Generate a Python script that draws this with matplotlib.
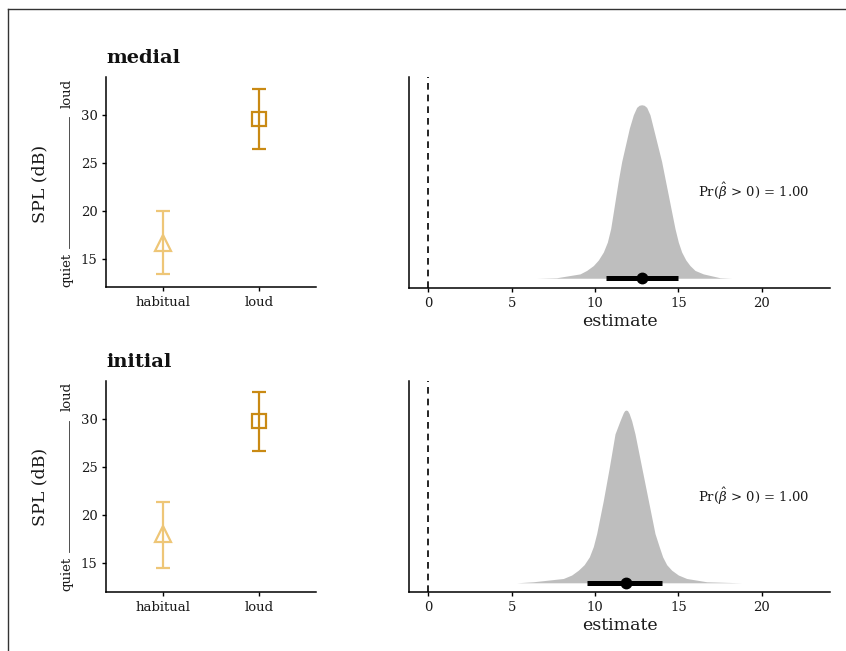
import matplotlib
matplotlib.use("Agg")
import matplotlib.pyplot as plt
from matplotlib.lines import Line2D

plt.rcParams['font.family'] = ['DejaVu Serif']
plt.rcParams['mathtext.fontset'] = 'dejavuserif'

# ---------------- data ----------------
conditions = ["habitual", "loud"]
cond_colors = ["#EEC677", "#C98A14"]
cond_markers = ["^", "s"]

panels = ["medial", "initial"]

medial_mean = [16.7, 29.5]
medial_lo = [13.4, 26.4]
medial_hi = [20.0, 32.7]

initial_mean = [18.05, 29.8]
initial_lo = [14.55, 26.7]
initial_hi = [21.34, 32.8]

medial_dens_x = [6.5, 7.7, 9.1, 9.5, 9.9, 10.2, 10.5, 10.74, 10.94, 11.1, 11.26, 11.42, 11.6,
                 12.06, 12.3, 12.5, 12.65, 12.8, 12.95, 13.1, 13.3, 13.5, 14.0, 14.2, 14.4,
                 14.6, 14.8, 15.0, 15.2, 15.45, 15.7, 16.0, 16.5, 17.5, 18.2]
medial_dens_y = [0.0, 0.003, 0.025, 0.045, 0.073, 0.105, 0.151, 0.208, 0.286, 0.382, 0.479,
                 0.575, 0.672, 0.865, 0.942, 0.985, 0.997, 1.0, 0.997, 0.985, 0.942, 0.865,
                 0.672, 0.575, 0.479, 0.382, 0.286, 0.208, 0.151, 0.105, 0.073, 0.045, 0.025,
                 0.003, 0.0]

initial_dens_x = [5.3, 6.3, 8.1, 8.6, 9.0, 9.35, 9.66, 9.9, 10.1, 10.5, 10.86, 11.2, 11.5,
                  11.7, 11.78, 11.86, 11.95, 12.05, 12.2, 12.4, 12.8, 13.2, 13.6, 13.85,
                  14.06, 14.3, 14.6, 15.0, 15.5, 16.7, 18.8]
initial_dens_y = [0.0, 0.006, 0.025, 0.045, 0.073, 0.105, 0.15, 0.21, 0.285, 0.477, 0.669,
                  0.862, 0.938, 0.985, 0.997, 1.0, 0.997, 0.98, 0.938, 0.862, 0.669, 0.477,
                  0.285, 0.21, 0.15, 0.105, 0.073, 0.045, 0.025, 0.006, 0.0]

medial_interval = [10.64, 15.0]
medial_point = 12.83
initial_interval = [9.5, 14.04]
initial_point = 11.84

prob_label = r"Pr($\hat{\beta}$ > 0) = 1.00"

# ---------------- figure ----------------
W, H = 846, 651
fig = plt.figure(figsize=(W / 100, H / 100), dpi=100)


def ax_px(l, r, t, b):
    return fig.add_axes([l / W, 1 - b / H, (r - l) / W, (b - t) / H])


means = [medial_mean, initial_mean]
los = [medial_lo, initial_lo]
his = [medial_hi, initial_hi]
dxs = [medial_dens_x, initial_dens_x]
dys = [medial_dens_y, initial_dens_y]
intervals = [medial_interval, initial_interval]
points = [medial_point, initial_point]

left_boxes = [(106, 316, 77, 287), (106, 316, 380.7, 592.3)]
right_boxes = [(409, 830, 77, 288.3), (409, 830, 380.7, 592.3)]
ylims_left = [(12.1, 33.9), (12.0, 34.0)]
ylims_right = [(-0.058, 1.16), (-0.055, 1.17)]
title_y = [63, 367]
offsets = [0, 303.7]
txt = '#1a1a1a'

for i, name in enumerate(panels):
    # ---- left panel: condition means ----
    ax = ax_px(*left_boxes[i])
    for j, c in enumerate(conditions):
        x = j + 1
        ax.errorbar([x], [means[i][j]],
                    yerr=[[means[i][j] - los[i][j]], [his[i][j] - means[i][j]]],
                    fmt='none', ecolor=cond_colors[j], elinewidth=1.6, capsize=5,
                    capthick=1.6, zorder=2)
        ax.plot([x], [means[i][j]], marker=cond_markers[j], markersize=11 if j == 0 else 10,
                markerfacecolor='none', markeredgecolor=cond_colors[j],
                markeredgewidth=1.6, linestyle='none', zorder=3)
    ax.set_xlim(0.4, 2.6)
    ax.set_ylim(*ylims_left[i])
    ax.set_xticks([1, 2])
    ax.set_xticklabels(conditions)
    ax.set_yticks([15, 20, 25, 30])
    for s in ['top', 'right']:
        ax.spines[s].set_visible(False)
    for s in ['left', 'bottom']:
        ax.spines[s].set_linewidth(1.1)
    ax.tick_params(axis='both', labelsize=9.5, length=3, width=1, colors='black',
                   labelcolor=txt)
    ax.tick_params(axis='y', pad=3)

    fig.text(106 / W, 1 - title_y[i] / H, name, fontsize=14, fontweight='bold',
             ha='left', va='baseline', color='#111111')

    # y label + quiet/loud annotation
    off = offsets[i]
    fig.text(40 / W, 1 - (183.5 + off) / H, "SPL (dB)", rotation=90, fontsize=12.5,
             ha='center', va='center', color=txt)
    fig.text(67 / W, 1 - (93 + off) / H, "loud", rotation=90, fontsize=9.5,
             ha='center', va='center', color=txt)
    fig.text(67 / W, 1 - (270 + off) / H, "quiet", rotation=90, fontsize=9.5,
             ha='center', va='center', color=txt)
    fig.add_artist(Line2D([69 / W, 69 / W], [1 - (117 + off) / H, 1 - (248 + off) / H],
                          transform=fig.transFigure, color='#333333', linewidth=0.6))

    # ---- right panel: posterior ----
    axr = ax_px(*right_boxes[i])
    axr.fill_between(dxs[i], 0, dys[i], color='#BEBEBE', linewidth=0, zorder=1)
    axr.axvline(0, color='black', linestyle=(0, (4, 3)), linewidth=1.2, zorder=0)
    axr.plot(intervals[i], [0, 0], color='black', linewidth=3.6,
             solid_capstyle='butt', zorder=3)
    axr.plot([points[i]], [0], marker='o', color='black', markersize=7.5, zorder=4)
    axr.text(16.2, 0.5, prob_label, fontsize=9.5, ha='left', va='center', color=txt)
    axr.set_xlim(-1.16, 24.1)
    axr.set_ylim(*ylims_right[i])
    axr.set_xticks([0, 5, 10, 15, 20])
    axr.set_yticks([])
    for s in ['top', 'right']:
        axr.spines[s].set_visible(False)
    for s in ['left', 'bottom']:
        axr.spines[s].set_linewidth(1.1)
    axr.tick_params(axis='x', labelsize=9.5, length=3, width=1, labelcolor=txt)
    axr.set_xlabel("estimate", fontsize=12.5, labelpad=2, color=txt)

# figure border (top and left)
fig.add_artist(Line2D([8 / W, 1.0], [1 - 9 / H, 1 - 9 / H], transform=fig.transFigure,
                      color='#333333', linewidth=1.0))
fig.add_artist(Line2D([8 / W, 8 / W], [1 - 9 / H, 0.0], transform=fig.transFigure,
                      color='#333333', linewidth=1.0))

fig.savefig("out.png", dpi=100, facecolor='white')
